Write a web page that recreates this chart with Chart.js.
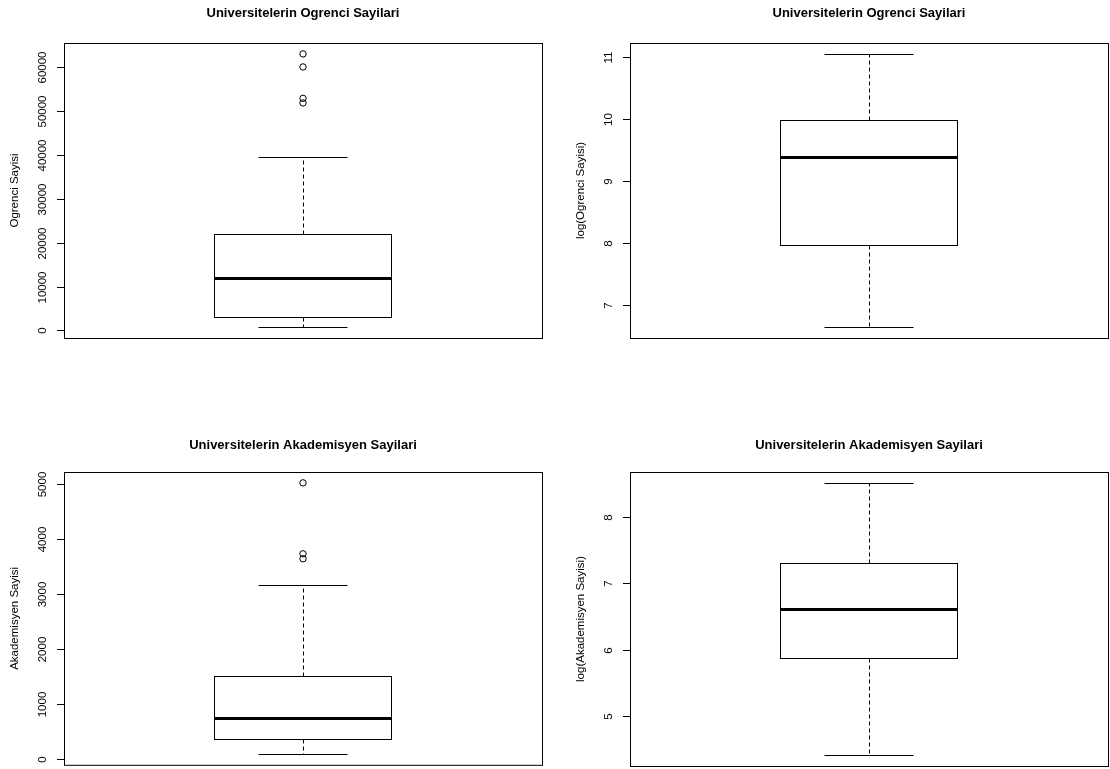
<!DOCTYPE html>
<html>
<head>
<meta charset="utf-8">
<title>Universitelerin Ogrenci ve Akademisyen Sayilari</title>
<script src="https://cdn.jsdelivr.net/npm/chart.js@4.4.1/dist/chart.umd.min.js"></script>
<style>
  html, body { margin: 0; padding: 0; background: #fff; }
  #wrap { position: relative; width: 1110px; height: 769px; overflow: hidden; }
  canvas { position: absolute; }
</style>
</head>
<body>
<div id="wrap">
  <canvas id="ogrenciChart" width="555" height="400" style="left:0;top:0"></canvas>
  <canvas id="logOgrenciChart" width="555" height="400" style="left:555px;top:0"></canvas>
  <canvas id="akademisyenChart" width="555" height="340" style="left:0;top:429px"></canvas>
  <canvas id="logAkademisyenChart" width="555" height="340" style="left:555px;top:429px"></canvas>
</div>
<script>
// Box statistics: lower whisker, Q1, median, Q3, upper whisker
const ogrenciStats = [775, 2960, 11940, 21960, 39500];
const ogrenciOutliers = [51800, 52850, 60000, 62960];
const ogrenciTicks = [0, 10000, 20000, 30000, 40000, 50000, 60000];

const logOgrenciStats = [6.64, 7.97, 9.39, 9.995, 11.055];
const logOgrenciOutliers = [];
const logOgrenciTicks = [7, 8, 9, 10, 11];

const akademisyenStats = [85, 355, 742, 1509, 3155];
const akademisyenOutliers = [3637, 3727, 5018];
const akademisyenTicks = [0, 1000, 2000, 3000, 4000, 5000];

const logAkademisyenStats = [4.41, 5.878, 6.612, 7.316, 8.518];
const logAkademisyenOutliers = [];
const logAkademisyenTicks = [5, 6, 7, 8];

const ogrenciTitle = 'Universitelerin Ogrenci Sayilari';
const akademisyenTitle = 'Universitelerin Akademisyen Sayilari';

const FONT = '"Liberation Sans", Arial, Helvetica, sans-serif';

// R style range: data limits padded by 4% on both sides
function rRange(stats, outliers) {
    const all = stats.concat(outliers);
    const lo = Math.min(...all);
    const hi = Math.max(...all);
    const pad = (hi - lo) * 0.04;
    return { min: lo - pad, max: hi + pad };
}

function crisp(v) {
    return Math.round(v) + 0.5;
}

// Draws box outline, whiskers, caps, median, plot frame and the R style y axis
const rBoxplotPlugin = {
    id: 'rBoxplot',
    afterDatasetsDraw(chart, args, opts) {
        const ctx = chart.ctx;
        const yScale = chart.scales.y;
        const bar = chart.getDatasetMeta(0).data[0];
        const half = bar.width / 2;
        const cx = crisp(bar.x - 0.5);
        const [lo, q1, med, q3, hi] = opts.stats.map(v => yScale.getPixelForValue(v));
        const left = crisp(bar.x - half);
        const right = crisp(bar.x + half - 1);

        ctx.save();
        ctx.strokeStyle = '#000';
        ctx.lineWidth = 1;

        // box outline
        ctx.strokeRect(left, crisp(q3), right - left, crisp(q1) - crisp(q3));

        // dashed whiskers
        ctx.setLineDash([4, 3]);
        ctx.beginPath();
        ctx.moveTo(cx, crisp(q3));
        ctx.lineTo(cx, crisp(hi));
        ctx.moveTo(cx, crisp(q1));
        ctx.lineTo(cx, crisp(lo));
        ctx.stroke();
        ctx.setLineDash([]);

        // staples
        ctx.beginPath();
        ctx.moveTo(bar.x - half / 2, crisp(hi));
        ctx.lineTo(bar.x + half / 2, crisp(hi));
        ctx.moveTo(bar.x - half / 2, crisp(lo));
        ctx.lineTo(bar.x + half / 2, crisp(lo));
        ctx.stroke();

        // median
        ctx.lineWidth = 3;
        ctx.beginPath();
        ctx.moveTo(left - 0.5, crisp(med));
        ctx.lineTo(right + 0.5, crisp(med));
        ctx.stroke();
        ctx.restore();
    },
    afterDraw(chart, args, opts) {
        const ctx = chart.ctx;
        const area = chart.chartArea;
        const yScale = chart.scales.y;

        ctx.save();
        ctx.strokeStyle = '#000';
        ctx.fillStyle = '#000';
        ctx.lineWidth = 1;
        ctx.strokeRect(area.left + 0.5, area.top + 0.5, area.right - area.left, area.bottom - area.top);

        // axis line and ticks
        const tickPx = opts.ticks.map(v => crisp(yScale.getPixelForValue(v)));
        ctx.beginPath();
        ctx.moveTo(area.left + 0.5, Math.min(...tickPx));
        ctx.lineTo(area.left + 0.5, Math.max(...tickPx));
        tickPx.forEach(py => {
            ctx.moveTo(area.left - 7, py);
            ctx.lineTo(area.left + 0.5, py);
        });
        ctx.stroke();

        // rotated tick labels
        ctx.font = '11.5px ' + FONT;
        ctx.textAlign = 'center';
        ctx.textBaseline = 'middle';
        opts.ticks.forEach((v, i) => {
            ctx.save();
            ctx.translate(area.left - 21, tickPx[i]);
            ctx.rotate(-Math.PI / 2);
            ctx.fillText(String(v), 0, 0);
            ctx.restore();
        });

        // y axis label
        ctx.save();
        ctx.translate(area.left - 49, (area.top + area.bottom) / 2);
        ctx.rotate(-Math.PI / 2);
        ctx.fillText(opts.yLabel, 0, 0);
        ctx.restore();

        ctx.restore();
    }
};

function makeBoxChart(canvasId, panel) {
    const range = rRange(panel.stats, panel.outliers);
    const category = panel.yLabel;
    return new Chart(document.getElementById(canvasId), {
        type: 'bar',
        data: {
            labels: [category],
            datasets: [{
                data: [[panel.stats[1], panel.stats[3]]],
                backgroundColor: '#fff',
                borderWidth: 0,
                barPercentage: 0.3724,
                categoryPercentage: 1
            }, {
                type: 'line',
                data: panel.outliers.map(v => ({ x: category, y: v })),
                showLine: false,
                pointStyle: 'circle',
                pointRadius: 3.2,
                pointHoverRadius: 3.2,
                pointBorderWidth: 1,
                pointBorderColor: '#000',
                pointBackgroundColor: 'rgba(0,0,0,0)'
            }]
        },
        options: {
            responsive: false,
            devicePixelRatio: 1,
            animation: false,
            events: [],
            layout: { padding: panel.padding },
            scales: {
                x: { type: 'category', display: false, offset: true },
                y: { type: 'linear', display: false, min: range.min, max: range.max }
            },
            plugins: {
                legend: { display: false },
                tooltip: { enabled: false },
                title: {
                    display: true,
                    text: panel.title,
                    color: '#000',
                    font: { family: FONT, size: 13, weight: 'bold' },
                    padding: panel.titlePadding
                },
                rBoxplot: {
                    stats: panel.stats,
                    ticks: panel.ticks,
                    yLabel: panel.yLabel
                }
            }
        },
        plugins: [rBoxplotPlugin]
    });
}

makeBoxChart('ogrenciChart', {
    title: ogrenciTitle,
    yLabel: 'Ogrenci Sayisi',
    stats: ogrenciStats,
    outliers: ogrenciOutliers,
    ticks: ogrenciTicks,
    padding: { left: 64, right: 13, top: 0, bottom: 62 },
    titlePadding: { top: 6, bottom: 21.4 }
});

makeBoxChart('logOgrenciChart', {
    title: ogrenciTitle,
    yLabel: 'log(Ogrenci Sayisi)',
    stats: logOgrenciStats,
    outliers: logOgrenciOutliers,
    ticks: logOgrenciTicks,
    padding: { left: 75, right: 2, top: 0, bottom: 62 },
    titlePadding: { top: 6, bottom: 21.4 }
});

makeBoxChart('akademisyenChart', {
    title: akademisyenTitle,
    yLabel: 'Akademisyen Sayisi',
    stats: akademisyenStats,
    outliers: akademisyenOutliers,
    ticks: akademisyenTicks,
    padding: { left: 64, right: 13, top: 0, bottom: 3 },
    titlePadding: { top: 9, bottom: 18.4 }
});

makeBoxChart('logAkademisyenChart', {
    title: akademisyenTitle,
    yLabel: 'log(Akademisyen Sayisi)',
    stats: logAkademisyenStats,
    outliers: logAkademisyenOutliers,
    ticks: logAkademisyenTicks,
    padding: { left: 75, right: 2, top: 0, bottom: 3 },
    titlePadding: { top: 9, bottom: 18.4 }
});
</script>
</body>
</html>
